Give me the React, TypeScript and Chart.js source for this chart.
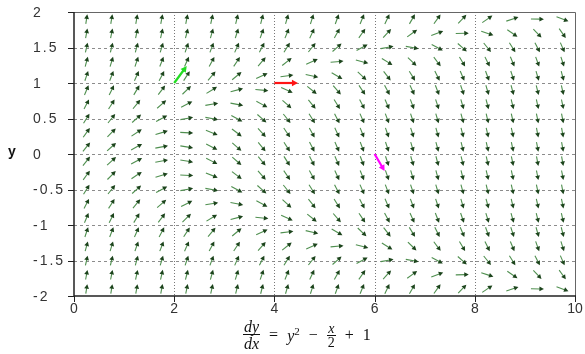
import React, { useEffect, useRef } from "react";
import { Chart, registerables } from "chart.js";

Chart.register(...registerables);

// Grid of the direction field (column x values, row y values)
const fieldX = [0.25, 0.75, 1.25, 1.75, 2.25, 2.75, 3.25, 3.75, 4.25, 4.75, 5.25, 5.75, 6.25, 6.75, 7.25, 7.75, 8.25, 8.75, 9.25, 9.75];
const fieldY = [-1.9, -1.7, -1.5, -1.3, -1.1, -0.9, -0.7, -0.5, -0.3, -0.1, 0.1, 0.3, 0.5, 0.7, 0.9, 1.1, 1.3, 1.5, 1.7, 1.9];

// Highlighted arrows (tail -> head, data coordinates)
const specialX0 = [2, 4, 6];
const specialY0 = [1, 1, 0];
const specialX1 = [2.25, 4.47, 6.2];
const specialY1 = [1.24, 1, -0.24];
const specialColors = ["#22dd22", "#ff1414", "#ff00ff"];

// Axis ticks
const xTicks = [0, 2, 4, 6, 8, 10];
const xTickLabels = ["0", "2", "4", "6", "8", "10"];
const yTicks = [-2, -1.5, -1, -0.5, 0, 0.5, 1, 1.5, 2];
const yTickLabels = ["-2", "-1.5", "-1", "-0.5", "0", "0.5", "1", "1.5", "2"];

// dy/dx = y^2 - x/2 + 1  (equation shown in the caption)
const slope = (x: number, y: number) => y * y - x / 2 + 1;

function drawArrow(
  ctx: CanvasRenderingContext2D,
  x1: number, y1: number, x2: number, y2: number,
  stroke: string, lw: number, headLen: number, headW: number, headFill: string
) {
  const dx = x2 - x1, dy = y2 - y1;
  const len = Math.hypot(dx, dy) || 1;
  const ux = dx / len, uy = dy / len;
  const bx = x2 - ux * headLen, by = y2 - uy * headLen;
  ctx.strokeStyle = stroke;
  ctx.lineWidth = lw;
  ctx.setLineDash([]);
  ctx.beginPath();
  ctx.moveTo(x1, y1);
  ctx.lineTo(bx + ux * 1, by + uy * 1);
  ctx.stroke();
  ctx.fillStyle = headFill;
  ctx.beginPath();
  ctx.moveTo(x2, y2);
  ctx.lineTo(bx - uy * headW, by + ux * headW);
  ctx.lineTo(bx + uy * headW, by - ux * headW);
  ctx.closePath();
  ctx.fill();
}

const fieldPlugin = {
  id: "fieldPlugin",
  afterDatasetsDraw(chart: any) {
    const ctx: CanvasRenderingContext2D = chart.ctx;
    const xs = chart.scales.x;
    const ys = chart.scales.y;
    const { left, right, top, bottom } = chart.chartArea;
    ctx.save();

    // grid lines
    ctx.lineWidth = 1;
    ctx.strokeStyle = "#8c8c8c";
    ctx.setLineDash([3, 3]);
    yTicks.forEach((v) => {
      if (v <= -2 || v >= 2) return;
      const py = Math.round(ys.getPixelForValue(v)) + 0.5;
      ctx.beginPath();
      ctx.moveTo(left, py);
      ctx.lineTo(right, py);
      ctx.stroke();
    });
    ctx.setLineDash([1, 2]);
    ctx.strokeStyle = "#777";
    xTicks.forEach((v) => {
      if (v <= 0 || v >= 10) return;
      const px = Math.round(xs.getPixelForValue(v)) + 0.5;
      ctx.beginPath();
      ctx.moveTo(px, top);
      ctx.lineTo(px, bottom);
      ctx.stroke();
    });
    ctx.setLineDash([]);

    // direction field
    const sx = Math.abs(xs.getPixelForValue(1) - xs.getPixelForValue(0));
    const sy = Math.abs(ys.getPixelForValue(1) - ys.getPixelForValue(0));
    fieldX.forEach((x) => {
      fieldY.forEach((y) => {
        const cx = xs.getPixelForValue(x);
        const cy = ys.getPixelForValue(y);
        const f = slope(x, y);
        let vx = sx, vy = -f * sy;
        const n = Math.hypot(vx, vy);
        vx /= n; vy /= n;
        const L = 9 + 4 * Math.abs(vx);
        drawArrow(ctx, cx - vx * L / 2, cy - vy * L / 2, cx + vx * L / 2, cy + vy * L / 2,
          "#4f8f4f", 1.1, 4.5, 2.4, "#1c441c");
      });
    });

    // highlighted arrows
    specialX0.forEach((_, i) => {
      drawArrow(ctx,
        xs.getPixelForValue(specialX0[i]), ys.getPixelForValue(specialY0[i]),
        xs.getPixelForValue(specialX1[i]), ys.getPixelForValue(specialY1[i]),
        specialColors[i], 2.2, 6, 3.2, specialColors[i]);
    });

    // frame
    ctx.strokeStyle = "#666";
    ctx.lineWidth = 1;
    ctx.beginPath();
    ctx.moveTo(left, top + 0.5);
    ctx.lineTo(right + 0.5, top + 0.5);
    ctx.lineTo(right + 0.5, bottom);
    ctx.stroke();
    ctx.strokeStyle = "#222";
    ctx.lineWidth = 1.5;
    ctx.beginPath();
    ctx.moveTo(left, top);
    ctx.lineTo(left, bottom);
    ctx.lineTo(right + 1, bottom);
    ctx.stroke();

    // tick marks
    ctx.lineWidth = 1;
    ctx.strokeStyle = "#222";
    yTicks.forEach((v) => {
      const py = Math.round(ys.getPixelForValue(v)) + 0.5;
      ctx.beginPath();
      ctx.moveTo(left - 6, py);
      ctx.lineTo(left, py);
      ctx.stroke();
    });
    xTicks.forEach((v) => {
      const px = Math.round(xs.getPixelForValue(v)) + 0.5;
      ctx.beginPath();
      ctx.moveTo(px, bottom);
      ctx.lineTo(px, bottom + 6);
      ctx.stroke();
    });

    // tick labels
    ctx.fillStyle = "#333";
    ctx.font = "14px 'Liberation Sans', Arial, sans-serif";
    (ctx as any).letterSpacing = "2px";
    ctx.textAlign = "left";
    ctx.textBaseline = "middle";
    yTicks.forEach((v, i) => {
      ctx.fillText(yTickLabels[i], 33, ys.getPixelForValue(v) + 1);
    });
    (ctx as any).letterSpacing = "0px";
    ctx.textAlign = "center";
    xTicks.forEach((v, i) => {
      ctx.fillText(xTickLabels[i], xs.getPixelForValue(v), bottom + 13);
    });
    ctx.restore();
  },
};

export default function App() {
  const ref = useRef<HTMLCanvasElement | null>(null);
  useEffect(() => {
    document.body.style.margin = "0";
    if (!ref.current) return;
    const points: { x: number; y: number }[] = [];
    fieldX.forEach((x) => fieldY.forEach((y) => points.push({ x, y })));
    const chart = new Chart(ref.current, {
      type: "scatter",
      data: {
        datasets: [
          { data: points, pointRadius: 0, pointHoverRadius: 0, showLine: false },
        ],
      },
      options: {
        animation: false,
        responsive: false,
        devicePixelRatio: 1,
        events: [],
        layout: { padding: { left: 33, top: 12, right: 10, bottom: 0 } },
        plugins: { legend: { display: false }, tooltip: { enabled: false } },
        scales: {
          x: {
            type: "linear",
            min: 0,
            max: 10,
            ticks: { display: false, stepSize: 2 },
            grid: { display: false },
            border: { display: false },
            afterFit: (s: any) => { s.height = 58; },
          },
          y: {
            type: "linear",
            min: -2,
            max: 2,
            ticks: { display: false, stepSize: 0.5 },
            grid: { display: false },
            border: { display: false },
            afterFit: (s: any) => { s.width = 41; },
          },
        },
      },
      plugins: [fieldPlugin],
    });
    return () => chart.destroy();
  }, []);

  const up: React.CSSProperties = { fontStyle: "normal" };
  return (
    <div style={{ position: "fixed", left: 0, top: 0, width: 585, height: 354, background: "#fff", overflow: "hidden" }}>
      <canvas ref={ref} width={585} height={354} style={{ position: "absolute", left: 0, top: 0 }} />
      <div style={{ position: "absolute", left: 8, top: 143, font: "bold 14px 'Liberation Sans', Arial, sans-serif", color: "#111" }}>y</div>
      <div
        style={{
          position: "absolute",
          left: 243,
          top: 319,
          display: "flex",
          alignItems: "center",
          fontFamily: "'Liberation Serif', 'DejaVu Serif', serif",
          fontStyle: "italic",
          fontSize: 16,
          color: "#111",
          whiteSpace: "nowrap",
        }}
      >
        <span style={{ display: "inline-flex", flexDirection: "column", alignItems: "center", lineHeight: "15px" }}>
          <span style={{ padding: "0 1px" }}>dy</span>
          <span style={{ borderTop: "1px solid #111", padding: "1px 1px 0" }}>dx</span>
        </span>
        <span style={{ ...up, margin: "0 9px" }}>=</span>
        <span>
          y<sup style={{ ...up, fontSize: 11 }}>2</sup>
        </span>
        <span style={{ ...up, margin: "0 9px" }}>−</span>
        <span style={{ display: "inline-flex", flexDirection: "column", alignItems: "center", lineHeight: "13px", fontSize: 14 }}>
          <span style={{ padding: "0 1px" }}>x</span>
          <span style={{ ...up, borderTop: "1px solid #111", padding: "0 1px" }}>2</span>
        </span>
        <span style={{ ...up, margin: "0 9px" }}>+</span>
        <span style={up}>1</span>
      </div>
    </div>
  );
}
